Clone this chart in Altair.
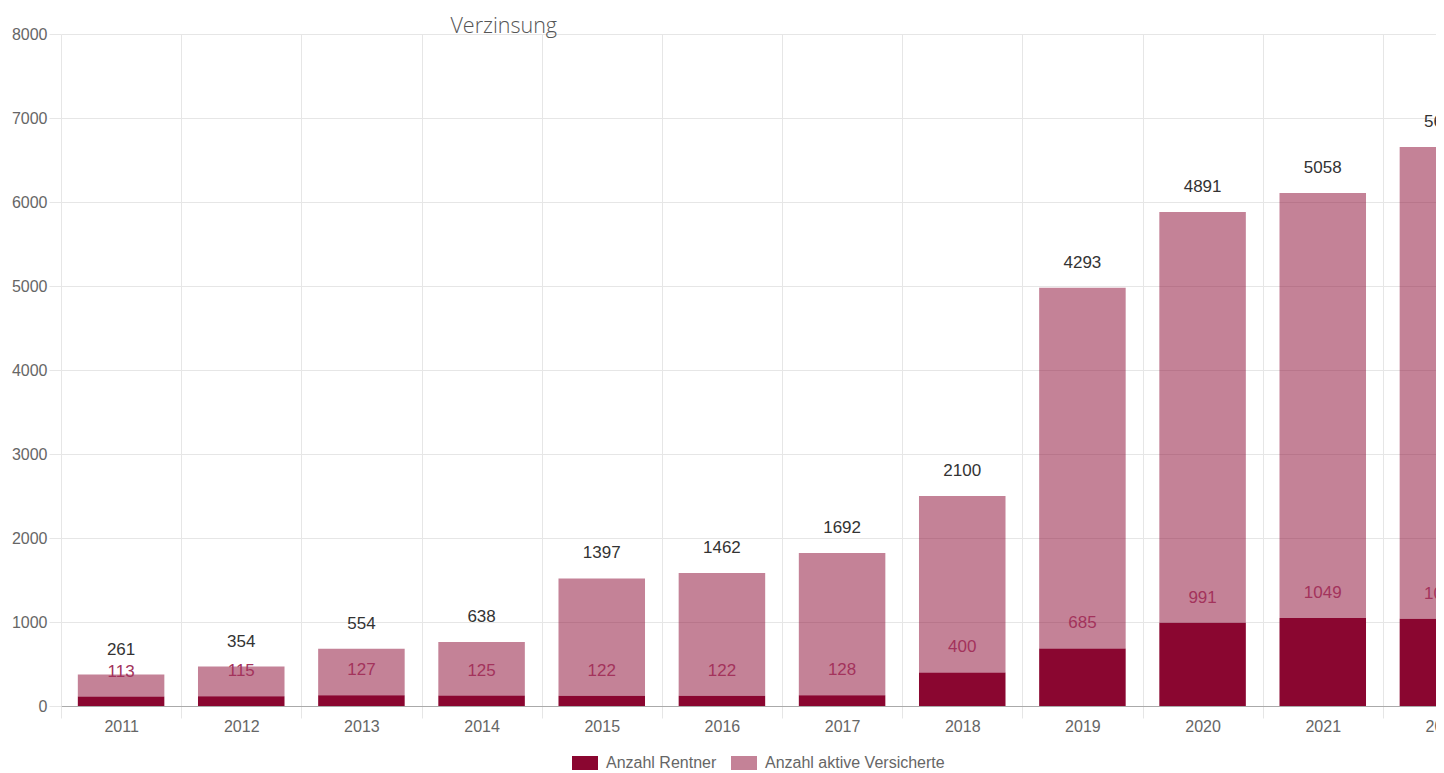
import altair as alt
import pandas as pd

years = ["2011", "2012", "2013", "2014", "2015", "2016", "2017", "2018", "2019", "2020", "2021", "2022"]
rentner = [113, 115, 127, 125, 122, 122, 128, 400, 685, 991, 1049, 1040]
aktive = [261, 354, 554, 638, 1397, 1462, 1692, 2100, 4293, 4891, 5058, 5615]
series_names = ["Anzahl Rentner", "Anzahl aktive Versicherte"]
series_colors = ["#8a0630", "rgba(138,6,48,0.5)"]
y_ticks = [0, 1000, 2000, 3000, 4000, 5000, 6000, 7000, 8000]

rows = []
for i, yr in enumerate(years):
    rows.append({"Jahr": yr, "Serie": series_names[0], "Wert": rentner[i], "ord": 0})
    rows.append({"Jahr": yr, "Serie": series_names[1], "Wert": aktive[i], "ord": 1})
df = pd.DataFrame(rows)

FONT = "Liberation Sans"
GRID = "#e6e6e6"

x_scale = alt.Scale(domain=years, paddingInner=0, paddingOuter=0, range=[0, 1442])

x_enc = alt.X(
    "Jahr:N",
    title=None,
    sort=years,
    scale=x_scale,
    axis=alt.Axis(
        labelAngle=0,
        tickBand="extent",
        grid=True,
        gridColor=GRID,
        tickColor=GRID,
        tickSize=12,
        labelPadding=0,
        labelFontSize=16,
        labelColor="#666666",
        labelFont=FONT,
        domainColor="#aaaaaa",
    ),
)
y_enc = alt.Y(
    "Wert:Q",
    stack="zero",
    title=None,
    scale=alt.Scale(domain=[0, 8000], nice=False),
    axis=alt.Axis(
        values=y_ticks,
        format="d",
        grid=True,
        gridColor=GRID,
        tickColor=GRID,
        tickSize=12,
        labelPadding=2,
        labelFontSize=16,
        labelColor="#666666",
        labelFont=FONT,
        domain=False,
    ),
)

bars = alt.Chart(df).mark_bar(width=alt.RelativeBandSize(0.72)).encode(
    x=x_enc,
    y=y_enc,
    color=alt.Color(
        "Serie:N",
        scale=alt.Scale(domain=series_names, range=series_colors),
        legend=alt.Legend(
            title=None,
            orient="none",
            legendX=511,
            legendY=716,
            direction="horizontal",
            symbolType="M-1,-0.54H1V0.54H-1Z",
            symbolSize=676,
            symbolStrokeWidth=0,
            labelOffset=8,
            labelLimit=400,
            columnPadding=14,
            labelFontSize=16,
            labelFont=FONT,
            labelColor="#666666",
            padding=0,
        ),
    ),
    order=alt.Order("ord:Q"),
)

labels = alt.Chart(df).mark_text(dy=-25, fontSize=17, font=FONT, baseline="middle").encode(
    x=alt.X("Jahr:N", sort=years, scale=x_scale),
    y=alt.Y("Wert:Q", stack="zero"),
    text=alt.Text("Wert:Q", format="d"),
    order=alt.Order("ord:Q"),
    color=alt.condition(alt.datum.ord == 0, alt.value("#a3335c"), alt.value("#333333")),
)

chart = (
    alt.layer(bars, labels)
    .properties(
        width=1375,
        height=672,
        autosize=alt.AutoSizeParams(type="none"),
        padding={"left": 53, "top": 26, "right": 0, "bottom": 65},
        title=alt.TitleParams(
            "Verzinsung",
            anchor="start",
            dx=439,
            dy=30,
            font="Open Sans",
            fontWeight=300,
            fontSize=21.5,
            color="#555555",
            baseline="alphabetic",
            offset=2,
        ),
    )
    .configure_view(strokeWidth=0)
)

chart.save("out.html", embed_options={"renderer": "svg", "actions": False})
